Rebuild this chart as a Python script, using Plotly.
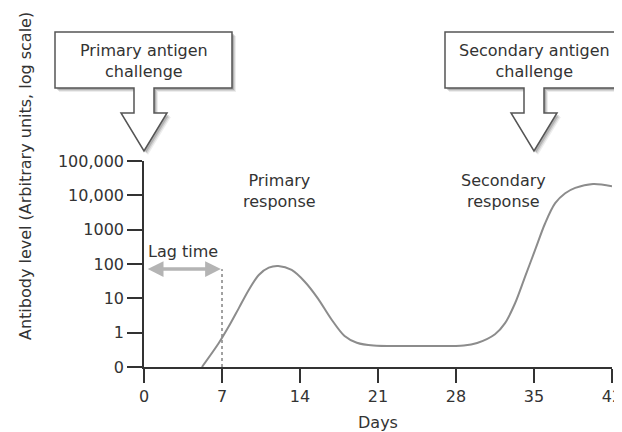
import math
import plotly.graph_objects as go

# ---- data ----
days = [5.2, 6.7, 7.6, 8.5, 9.4, 10.3, 11.2, 12.05, 13.25, 14.45, 15.6, 16.8, 18.0,
        19.1, 20.6, 24.5, 28.7, 29.9, 31.5, 32.4, 33.3, 34.2, 35.1, 36.0, 36.9,
        37.8, 38.7, 40.3, 42.0]
antibody = [0.1, 0.49, 1.5, 5.1, 17.5, 48, 78, 87, 67, 30, 10, 2.5, 0.8,
            0.51, 0.42, 0.41, 0.42, 0.5, 0.9, 1.9, 7.2, 43, 257, 1540, 5900,
            11500, 16500, 21500, 18500]

x_ticks = [0, 7, 14, 21, 28, 35, 42]
y_tickvals = [0.1, 1, 10, 100, 1000, 10000, 100000]
y_ticktext = ["0", "1", "10", "100", "1000", "10,000", "100,000"]

challenge_days = [0, 35]
challenge_labels = ["Primary antigen<br>challenge", "Secondary antigen<br>challenge"]

response_days = [12.2, 32.3]
response_labels = ["Primary<br>response", "Secondary<br>response"]

lag_start, lag_end = 0, 7
lag_level = 71

FONT = "DejaVu Sans"
FS = 16
TXT = "#333333"

# page has an 8px body margin; compensate
OFF = 8
W, H = 622 - OFF, 432 - OFF
ML, MR, MT, MB = 144 - OFF, 10, 161 - OFF, 65
PW, PH = W - ML - MR, H - MT - MB


def px2paper(sx, sy):
    """screen pixel -> paper coords"""
    fx, fy = sx - OFF, sy - OFF
    return (fx - ML) / PW, (H - MB - fy) / PH


fig = go.Figure()

# dotted line at end of lag time
fig.add_trace(go.Scatter(x=[lag_end, lag_end], y=[0.1, lag_level], mode="lines",
                         line=dict(color="#444444", width=1, dash="dot"),
                         hoverinfo="skip", showlegend=False, cliponaxis=False))

# antibody curve
fig.add_trace(go.Scatter(x=days, y=antibody, mode="lines",
                         line=dict(color="#8c8c8c", width=2, shape="spline",
                                   smoothing=0.9),
                         showlegend=False))

shapes = []
annotations = []


def callout_path(tx, ty, dx=0, dy=0):
    pts = [(-89, 32), (88, 32), (88, 88), (10, 88), (10, 113), (23, 113),
           (0, ty), (-23, 113), (-10, 113), (-10, 88), (-89, 88)]
    out = []
    for i, (ox, oy) in enumerate(pts):
        sx = tx + ox + dx
        sy = (ty if i == 6 else oy) + dy
        xp, yp = px2paper(sx, sy)
        out.append(("M" if i == 0 else "L") + f"{xp:.5f},{yp:.5f}")
    return " ".join(out) + " Z"


for d, lab in zip(challenge_days, challenge_labels):
    tx = 144 + d * 468 / 42
    ty = 151
    for off, alpha in [(4, 0.07), (3, 0.11), (2, 0.16)]:
        shapes.append(dict(type="path", xref="paper", yref="paper",
                           path=callout_path(tx, ty, off, off),
                           fillcolor=f"rgba(0,0,0,{alpha})", line=dict(width=0)))
    shapes.append(dict(type="path", xref="paper", yref="paper",
                       path=callout_path(tx, ty),
                       fillcolor="white", line=dict(color="#555555", width=1.5)))
    xp, yp = px2paper(tx, 61)
    annotations.append(dict(x=xp, y=yp, xref="paper", yref="paper", text=lab,
                            showarrow=False, xanchor="center", yanchor="middle",
                            font=dict(family=FONT, size=FS, color=TXT)))

for d, lab in zip(response_days, response_labels):
    annotations.append(dict(x=d, y=px2paper(0, 191)[1], xref="x", yref="paper",
                            text=lab, showarrow=False, xanchor="center",
                            yanchor="middle",
                            font=dict(family=FONT, size=FS, color=TXT)))

# lag time arrow
annotations.append(dict(x=lag_end - 0.1, y=math.log10(lag_level), ax=lag_start + 0.2,
                        ay=math.log10(lag_level), xref="x", yref="y",
                        axref="x", ayref="y", text="", showarrow=True,
                        arrowhead=2, startarrowhead=2, arrowside="end+start",
                        arrowsize=0.9, startarrowsize=0.9, arrowwidth=3.5,
                        arrowcolor="#b4b4b4"))
annotations.append(dict(x=(lag_start + lag_end) / 2, y=px2paper(0, 251)[1],
                        xref="x", yref="paper", text="Lag time", showarrow=False,
                        xanchor="center", yanchor="middle",
                        font=dict(family=FONT, size=FS, color=TXT)))

# axis titles
annotations.append(dict(x=px2paper(25, 0)[0], y=px2paper(0, 176)[1], xref="paper",
                        yref="paper", text="Antibody level (Arbitrary units, log scale)",
                        textangle=-90, showarrow=False, xanchor="center",
                        yanchor="middle", font=dict(family=FONT, size=FS, color=TXT)))
annotations.append(dict(x=0.5, y=px2paper(0, 422)[1], xref="paper", yref="paper",
                        text="Days", showarrow=False, xanchor="center",
                        yanchor="middle", font=dict(family=FONT, size=FS, color=TXT)))

fig.update_layout(
    width=W, height=H,
    margin=dict(l=ML, r=MR, t=MT, b=MB, autoexpand=False),
    paper_bgcolor="white", plot_bgcolor="white",
    font=dict(family=FONT, size=FS, color=TXT),
    shapes=shapes, annotations=annotations,
    showlegend=False,
)
fig.update_xaxes(range=[0, 42], tickvals=x_ticks, ticks="outside", ticklen=14,
                 tickwidth=1.5, tickcolor="#333333", showline=True,
                 linecolor="#333333", linewidth=1.5, showgrid=False, zeroline=False,
                 ticklabeloverflow="allow",
                 tickfont=dict(family=FONT, size=FS, color=TXT))
fig.update_yaxes(type="log", range=[-1, 5], tickvals=y_tickvals, ticktext=y_ticktext,
                 ticks="outside", ticklen=15, tickwidth=1.5, tickcolor="#333333",
                 showline=True, linecolor="#333333", linewidth=1.5, showgrid=False,
                 zeroline=False, tickfont=dict(family=FONT, size=FS, color=TXT))

fig.write_html("out.html")
